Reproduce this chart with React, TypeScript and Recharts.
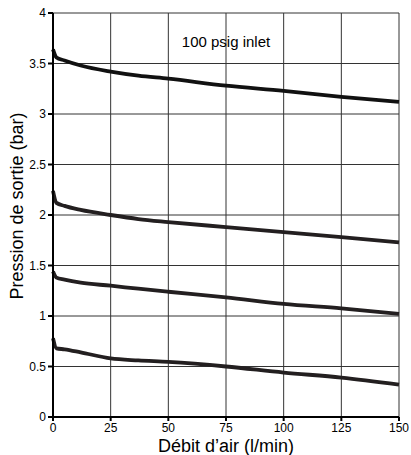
import React from 'react';
import { LineChart, Line, XAxis, YAxis, CartesianGrid, ReferenceDot, Label } from 'recharts';

const flow = [0, 1.5, 5, 12, 25, 37, 50, 75, 100, 125, 150];
const curveA = [3.64, 3.56, 3.53, 3.48, 3.42, 3.38, 3.35, 3.28, 3.23, 3.17, 3.12];
const curveB = [2.24, 2.12, 2.09, 2.05, 2.0, 1.96, 1.93, 1.88, 1.83, 1.78, 1.73];
const curveC = [1.44, 1.38, 1.36, 1.33, 1.3, 1.27, 1.24, 1.185, 1.12, 1.075, 1.02];
const curveD = [0.78, 0.68, 0.67, 0.64, 0.58, 0.56, 0.545, 0.5, 0.44, 0.39, 0.32];
const xTicks = [0, 25, 50, 75, 100, 125, 150];
const yTicks = [0, 0.5, 1, 1.5, 2, 2.5, 3, 3.5, 4];

const data = flow.map((f, i) => ({ f, a: curveA[i], b: curveB[i], c: curveC[i], d: curveD[i] }));

const FONT = 'Liberation Sans, Arial, sans-serif';

export default function App() {
  return (
    <div style={{ position: 'absolute', left: 0, top: 0, background: '#fff' }}>
      <LineChart width={411} height={455} data={data} margin={{ top: 13, right: 12, left: 0, bottom: 0 }}>
        <CartesianGrid stroke="#333" strokeWidth={1} />
        <XAxis
          dataKey="f"
          type="number"
          domain={[0, 150]}
          ticks={xTicks}
          height={38}
          stroke="#000"
          strokeWidth={2}
          tickSize={4}
          tickMargin={2}
          tick={{ fontSize: 12, fill: '#000', fontFamily: FONT }}
        >
          <Label
            content={() => (
              <text x={226} y={452} textAnchor="middle" fontSize={18} fontFamily={FONT} fill="#000">
                Débit d’air (l/min)
              </text>
            )}
          />
        </XAxis>
        <YAxis
          type="number"
          domain={[0, 4]}
          ticks={yTicks}
          width={53}
          stroke="#000"
          strokeWidth={2}
          tickSize={5}
          tickMargin={2}
          tick={{ fontSize: 12, fill: '#000', fontFamily: FONT }}
        >
          <Label
            content={() => (
              <text
                x={23}
                y={206}
                transform="rotate(-90, 23, 206)"
                textAnchor="middle"
                fontSize={18}
                fontFamily={FONT}
                fill="#000"
              >
                Pression de sortie (bar)
              </text>
            )}
          />
        </YAxis>
        <ReferenceDot
          x={75}
          y={3.72}
          r={0}
          fill="none"
          stroke="none"
          label={{ value: '100 psig inlet', position: 'center', fontSize: 15, fill: '#000', fontFamily: FONT }}
        />
        <Line dataKey="a" type="monotone" stroke="#111" strokeWidth={3.8} dot={false} isAnimationActive={false} />
        <Line dataKey="b" type="monotone" stroke="#231f20" strokeWidth={3.8} dot={false} isAnimationActive={false} />
        <Line dataKey="c" type="monotone" stroke="#231f20" strokeWidth={3.8} dot={false} isAnimationActive={false} />
        <Line dataKey="d" type="monotone" stroke="#231f20" strokeWidth={3.8} dot={false} isAnimationActive={false} />
      </LineChart>
    </div>
  );
}
